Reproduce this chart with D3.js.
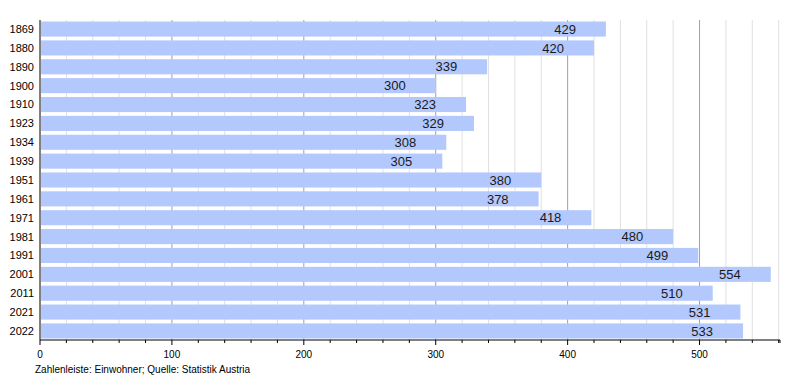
<!DOCTYPE html>
<html>
<head>
<meta charset="utf-8">
<script src="https://cdn.jsdelivr.net/npm/d3@7"></script>
<style>
  body { margin: 0; background: #fff; }
  text { font-family: "Liberation Sans", Arial, sans-serif; }
</style>
</head>
<body>
<script>
const years = ["1869","1880","1890","1900","1910","1923","1934","1939","1951","1961","1971","1981","1991","2001","2011","2021","2022"]
const residents = [429,420,339,300,323,329,308,305,380,378,418,480,499,554,510,531,533]
const majorTicks = [0,100,200,300,400,500]
const caption = "Zahlenleiste: Einwohner; Quelle: Statistik Austria"

const width = 800
const height = 380
const margin = {top: 20, right: 20, bottom: 40, left: 40}

const svg = d3.select("body").append("svg")
    .attr("width", width)
    .attr("height", height)

const x = d3.scaleLinear()
    .domain([0, 561])
    .range([margin.left, width - margin.right])

const y = d3.scaleBand()
    .domain(years)
    .range([margin.top, height - margin.bottom])
    .paddingInner(0.2)
    .paddingOuter(0.08)

const minorTicks = d3.range(20, 561, 20).filter(d => d % 100 != 0)

// grid behind the bars
svg.append("g")
    .selectAll("line")
    .data(minorTicks)
    .join("line")
    .attr("x1", d => x(d)).attr("x2", d => x(d))
    .attr("y1", margin.top).attr("y2", height - margin.bottom)
    .attr("stroke", "#e0e0e0")

svg.append("g")
    .selectAll("line")
    .data(majorTicks.slice(1))
    .join("line")
    .attr("x1", d => x(d)).attr("x2", d => x(d))
    .attr("y1", margin.top).attr("y2", height - margin.bottom)
    .attr("stroke", "#a0a0a0")

// bars
svg.append("g")
    .selectAll("rect")
    .data(years)
    .join("rect")
    .attr("x", x(0) + 1)
    .attr("y", d => y(d))
    .attr("width", (d, i) => x(residents[i]) - x(0) - 1)
    .attr("height", y.bandwidth())
    .attr("fill", "#b3c8fd")

// value labels
svg.append("g")
    .selectAll("text")
    .data(years)
    .join("text")
    .attr("x", (d, i) => x(residents[i]) - 30)
    .attr("y", d => y(d) + y.bandwidth() / 2)
    .attr("dy", "0.36em")
    .attr("text-anchor", "end")
    .attr("font-size", 13)
    .attr("fill", "#1a1a1a")
    .text((d, i) => residents[i])

// y axis
svg.append("line")
    .attr("x1", x(0)).attr("x2", x(0))
    .attr("y1", margin.top).attr("y2", height - margin.bottom)
    .attr("stroke", "#000")

svg.append("g")
    .selectAll("text")
    .data(years)
    .join("text")
    .attr("x", x(0) - 6)
    .attr("y", d => y(d) + y.bandwidth() / 2)
    .attr("dy", "0.36em")
    .attr("text-anchor", "end")
    .attr("font-size", 11)
    .attr("fill", "#000")
    .text(d => d)

// x axis
const xAxis = svg.append("g")
    .attr("transform", `translate(0,${height - margin.bottom})`)

xAxis.append("line")
    .attr("x1", x(0)).attr("x2", x(561))
    .attr("stroke", "#000")

xAxis.selectAll(".minor")
    .data(minorTicks.concat([561]))
    .join("line")
    .attr("class", "minor")
    .attr("x1", d => x(d)).attr("x2", d => x(d))
    .attr("y1", 0).attr("y2", 3)
    .attr("stroke", "#000")

xAxis.selectAll(".major")
    .data(majorTicks)
    .join("line")
    .attr("class", "major")
    .attr("x1", d => x(d)).attr("x2", d => x(d))
    .attr("y1", 0).attr("y2", 5)
    .attr("stroke", "#000")

xAxis.selectAll("text")
    .data(majorTicks)
    .join("text")
    .attr("x", d => x(d))
    .attr("y", 18)
    .attr("text-anchor", "middle")
    .attr("font-size", 10)
    .attr("fill", "#000")
    .text(d => d)

svg.append("text")
    .attr("x", 35)
    .attr("y", 373)
    .attr("font-size", 10)
    .attr("fill", "#000")
    .text(caption)
</script>
</body>
</html>
